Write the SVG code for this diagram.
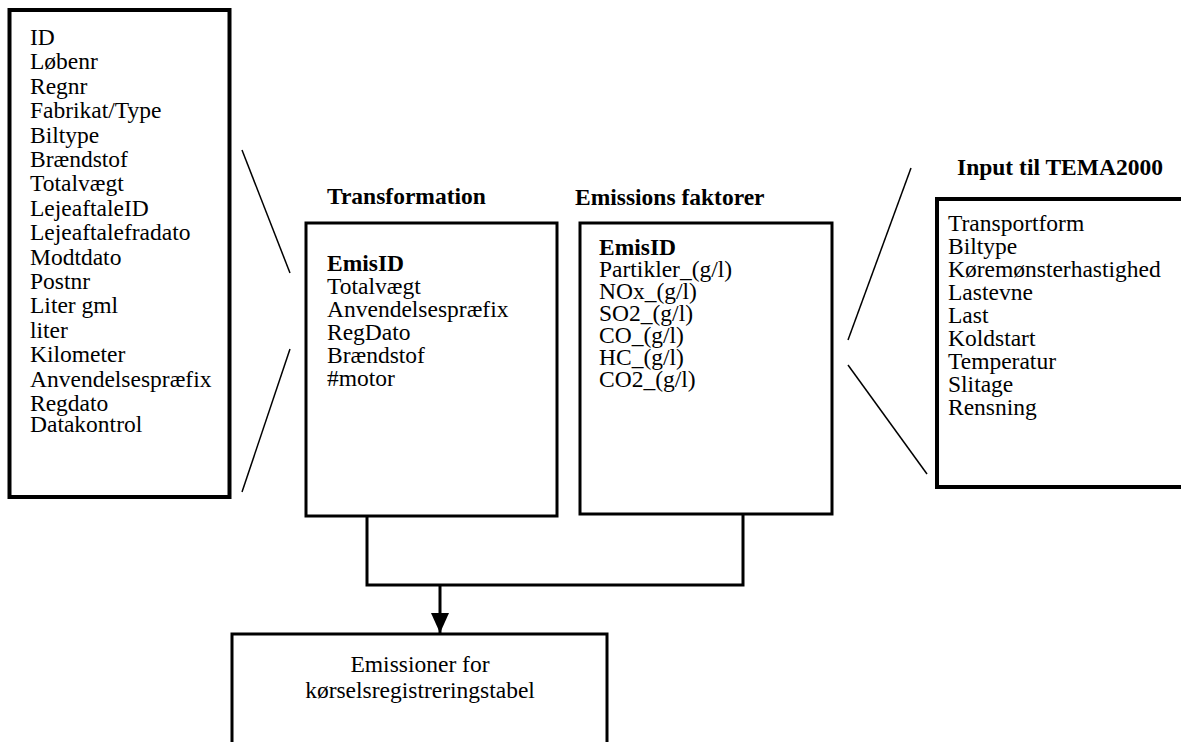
<svg xmlns="http://www.w3.org/2000/svg" width="1181" height="742" viewBox="0 0 1181 742">
<style>
.t{font-family:"Liberation Serif","Times New Roman",serif;font-size:23.5px;fill:#000}
.b{font-weight:bold}
.box{fill:#fff;stroke:#000;stroke-width:3}
.thick{stroke-width:4}
.ln{stroke:#000;stroke-width:1.5;fill:none}
.cn{stroke:#000;stroke-width:3;fill:none}
</style>
<defs>
<marker id="arr" markerUnits="userSpaceOnUse" markerWidth="20" markerHeight="18" refX="20" refY="9" orient="auto" viewBox="0 0 20 18">
<path d="M0,0 L20,9 L0,18 Z" fill="#000"/>
</marker>
</defs>
<rect width="1181" height="742" fill="#fff"/>
<g id="kilde">
<rect class="box thick" x="9.5" y="10" width="220" height="487"/>
<text class="t" x="30" y="45">ID</text>
<text class="t" x="30" y="69.4">Løbenr</text>
<text class="t" x="30" y="93.8">Regnr</text>
<text class="t" x="30" y="118.2">Fabrikat/Type</text>
<text class="t" x="30" y="142.6">Biltype</text>
<text class="t" x="30" y="167">Brændstof</text>
<text class="t" x="30" y="191.4">Totalvægt</text>
<text class="t" x="30" y="215.8">LejeaftaleID</text>
<text class="t" x="30" y="240.2">Lejeaftalefradato</text>
<text class="t" x="30" y="264.6">Modtdato</text>
<text class="t" x="30" y="289">Postnr</text>
<text class="t" x="30" y="313.4">Liter gml</text>
<text class="t" x="30" y="337.8">liter</text>
<text class="t" x="30" y="362.2">Kilometer</text>
<text class="t" x="30" y="386.6">Anvendelsespræfix</text>
<text class="t" x="30" y="411">Regdato</text>
<text class="t" x="30" y="432">Datakontrol</text>
</g>
<g id="transformation">
<text class="t b" x="327" y="204">Transformation</text>
<rect class="box" x="306" y="223" width="251" height="293"/>
<text class="t b" x="327" y="271">EmisID</text>
<text class="t" x="327" y="294">Totalvægt</text>
<text class="t" x="327" y="317">Anvendelsespræfix</text>
<text class="t" x="327" y="340">RegDato</text>
<text class="t" x="327" y="363">Brændstof</text>
<text class="t" x="327" y="386">#motor</text>
</g>
<g id="emissionsfaktorer">
<text class="t b" x="575" y="205">Emissions faktorer</text>
<rect class="box" x="580" y="223" width="252" height="291"/>
<text class="t b" x="599" y="255">EmisID</text>
<text class="t" x="599" y="277">Partikler_(g/l)</text>
<text class="t" x="599" y="299">NOx_(g/l)</text>
<text class="t" x="599" y="321">SO2_(g/l)</text>
<text class="t" x="599" y="343">CO_(g/l)</text>
<text class="t" x="599" y="365">HC_(g/l)</text>
<text class="t" x="599" y="387">CO2_(g/l)</text>
</g>
<g id="tema2000">
<text class="t b" x="957" y="175">Input til TEMA2000</text>
<rect class="box thick" x="937" y="199" width="260" height="288"/>
<text class="t" x="948" y="231">Transportform</text>
<text class="t" x="948" y="254">Biltype</text>
<text class="t" x="948" y="277">Køremønsterhastighed</text>
<text class="t" x="948" y="300">Lastevne</text>
<text class="t" x="948" y="323">Last</text>
<text class="t" x="948" y="346">Koldstart</text>
<text class="t" x="948" y="369">Temperatur</text>
<text class="t" x="948" y="392">Slitage</text>
<text class="t" x="948" y="415">Rensning</text>
</g>
<g id="emissioner">
<rect class="box" x="232" y="634" width="375" height="130"/>
<text class="t" x="420" y="672" text-anchor="middle">Emissioner for</text>
<text class="t" x="420" y="698" text-anchor="middle">kørselsregistreringstabel</text>
</g>
<g id="connectors">
<line class="ln" x1="242" y1="150" x2="290" y2="273"/>
<line class="ln" x1="290" y1="349" x2="242" y2="492"/>
<line class="ln" x1="911" y1="168" x2="848" y2="340"/>
<line class="ln" x1="848" y1="365" x2="927" y2="474"/>
<polyline class="cn" points="367,516 367,585 743,585 743,514"/>
<line class="cn" x1="440" y1="585" x2="440" y2="633" marker-end="url(#arr)"/>
</g>
</svg>
